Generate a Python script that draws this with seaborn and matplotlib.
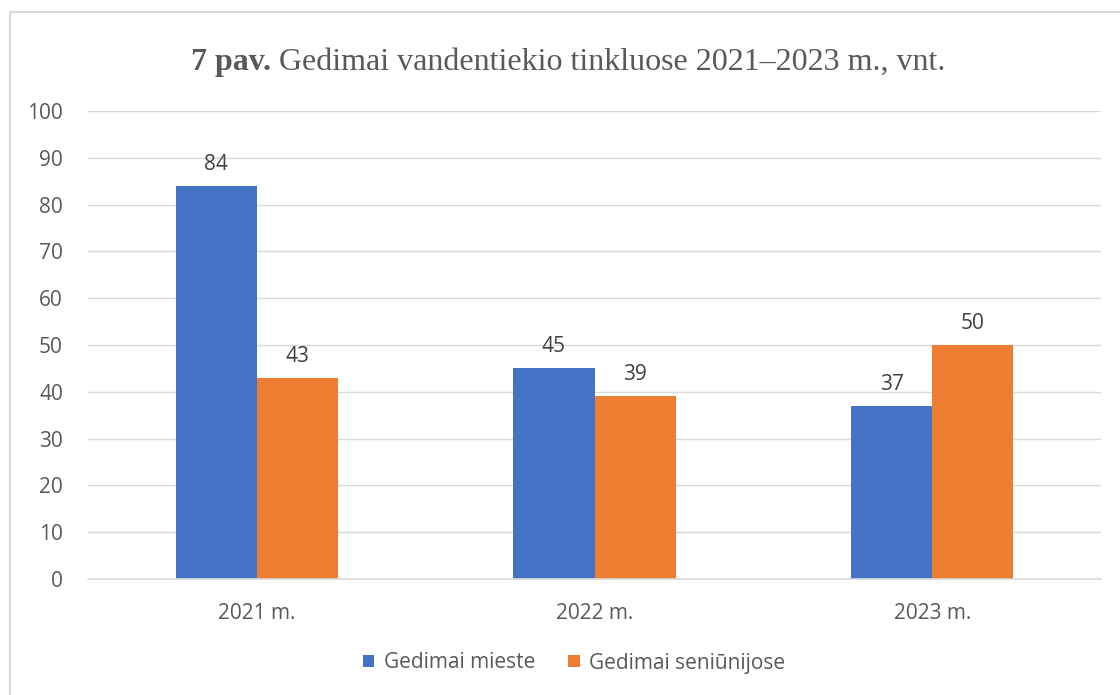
import matplotlib
matplotlib.use("Agg")
import matplotlib.pyplot as plt
import seaborn as sns
import pandas as pd
from matplotlib.patches import Rectangle

years = ["2021 m.", "2022 m.", "2023 m."]
series_names = ["Gedimai mieste", "Gedimai seniūnijose"]
mieste = [84, 45, 37]
seniunijose = [43, 39, 50]
colors = ["#4472C4", "#ED7D31"]

df = pd.DataFrame({
    "year": years * 2,
    "series": [series_names[0]] * 3 + [series_names[1]] * 3,
    "value": mieste + seniunijose,
})

sns.set_theme(style="white")
plt.rcParams["font.family"] = ["Open Sans", "DejaVu Sans"]

FS = 15
W, H = 1120, 695
fig = plt.figure(figsize=(W / 100, H / 100), dpi=100)
ax = fig.add_axes([88 / W, 1 - 579 / H, (1101 - 88) / W, (579 - 111) / H])

sns.barplot(data=df, x="year", y="value", hue="series", palette=colors,
            width=0.48, saturation=1, ax=ax, legend=True, linewidth=0)

ax.set_ylim(0, 100)
ax.set_yticks(range(0, 101, 10))
ax.set_xlim(-0.5, 2.5)
ax.set_xlabel("")
ax.set_ylabel("")
ax.grid(axis="y", color="#D9D9D9", linewidth=1)
ax.set_axisbelow(True)
for s in ["top", "right", "left"]:
    ax.spines[s].set_visible(False)
ax.spines["bottom"].set_color("#D9D9D9")
ax.spines["bottom"].set_linewidth(1.2)
ax.tick_params(axis="both", length=0, labelsize=FS, colors="#595959")
ax.tick_params(axis="x", pad=17)
ax.tick_params(axis="y", pad=18)

for cont in ax.containers:
    ax.bar_label(cont, labels=[f"{int(v)}" for v in cont.datavalues],
                 padding=8, fontsize=FS, color="#404040")

leg = ax.legend(loc="center", bbox_to_anchor=(574 / W, (695 - 663) / H),
                bbox_transform=fig.transFigure, ncol=2, frameon=False,
                fontsize=FS, handlelength=0.55, handleheight=0.55,
                columnspacing=1.6, handletextpad=0.45)
for t in leg.get_texts():
    t.set_color("#595959")

# border
fig.patches.append(Rectangle((10 / W, -0.05), 1.2, 1 - 12 / H + 0.05,
                             transform=fig.transFigure, fill=False,
                             edgecolor="#D9D9D9", linewidth=1.5))

# title with mixed weights
ty = 1 - 70 / H
t1 = fig.text(0, ty, "7 pav. ", fontsize=23, fontweight="bold",
              family="Liberation Serif", color="#595959", va="baseline")
t2 = fig.text(0, ty, "Gedimai vandentiekio tinkluose 2021\u20122023 m., vnt.",
              fontsize=23, family="Liberation Serif", color="#595959",
              va="baseline")
fig.canvas.draw()
r = fig.canvas.get_renderer()
w1 = t1.get_window_extent(r).width
w2 = t2.get_window_extent(r).width
x0 = 568 - (w1 + w2) / 2
t1.set_x(x0 / W)
t2.set_x((x0 + w1) / W)

fig.savefig("out.png", dpi=100)
